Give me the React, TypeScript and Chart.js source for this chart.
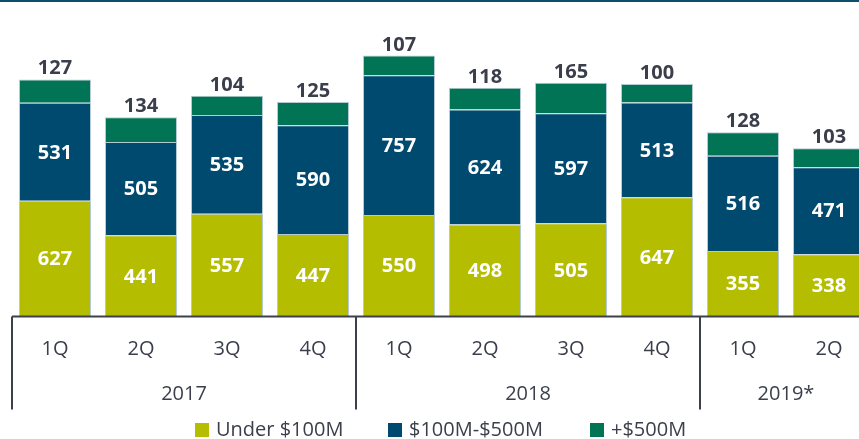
import React, { useEffect, useRef } from "react";
import { Chart, registerables } from "chart.js";

Chart.register(...registerables);

const categories = ["1Q", "2Q", "3Q", "4Q", "1Q", "2Q", "3Q", "4Q", "1Q", "2Q"];
const years = ["2017", "2018", "2019*"];
const yearSpans = [4, 4, 2];
const under100M = [627, 441, 557, 447, 550, 498, 505, 647, 355, 338];
const mid100to500M = [531, 505, 535, 590, 757, 624, 597, 513, 516, 471];
const over500M = [127, 134, 104, 125, 107, 118, 165, 100, 128, 103];
const seriesNames = ["Under $100M", "$100M-$500M", "+$500M"];
const seriesColors = ["#b5bd00", "#004a70", "#007455"];

const FONT = "'Open Sans', 'Noto Sans', sans-serif";
const TEXT = "#3b3f4b";

const overlayPlugin = {
  id: "overlay",
  afterDatasetsDraw(chart: any) {
    const ctx = chart.ctx;
    ctx.save();
    ctx.font = `bold 20px ${FONT}`;
    ctx.textAlign = "center";
    const n = chart.data.datasets.length;
    chart.data.datasets.forEach((ds: any, di: number) => {
      const meta = chart.getDatasetMeta(di);
      meta.data.forEach((el: any, i: number) => {
        const v = ds.data[i];
        if (di === n - 1) {
          ctx.fillStyle = TEXT;
          ctx.textBaseline = "alphabetic";
          ctx.fillText(String(v), el.x, el.y - 5);
        } else {
          ctx.fillStyle = "#ffffff";
          ctx.textBaseline = "middle";
          ctx.fillText(String(v), el.x, (el.y + el.base) / 2 + 1);
        }
      });
    });
    ctx.restore();
  },
  afterDraw(chart: any) {
    const ctx = chart.ctx;
    const area = chart.chartArea;
    const xs = chart.scales.x;
    ctx.save();
    // top rule
    ctx.fillStyle = "#0e4d6b";
    ctx.fillRect(0, 0, chart.width, 2);
    // axis line
    ctx.strokeStyle = "#3d414b";
    ctx.lineWidth = 2;
    ctx.beginPath();
    ctx.moveTo(area.left, area.bottom);
    ctx.lineTo(chart.width, area.bottom);
    ctx.stroke();
    // quarter labels
    ctx.fillStyle = TEXT;
    ctx.font = `20px ${FONT}`;
    ctx.textAlign = "center";
    ctx.textBaseline = "middle";
    categories.forEach((c, i) => {
      ctx.fillText(c, xs.getPixelForValue(i), area.bottom + 33);
    });
    // year groups and separators
    let start = 0;
    const boundary = (k: number) =>
      k === 0 ? area.left : (xs.getPixelForValue(k - 1) + xs.getPixelForValue(k)) / 2;
    years.forEach((y, gi) => {
      const end = start + yearSpans[gi] - 1;
      const cx = (xs.getPixelForValue(start) + xs.getPixelForValue(end)) / 2;
      ctx.fillText(y, cx, area.bottom + 78);
      const bx = Math.round(boundary(start));
      ctx.beginPath();
      ctx.moveTo(bx, area.bottom);
      ctx.lineTo(bx, area.bottom + 93);
      ctx.stroke();
      start = end + 1;
    });
    // legend
    const legendX = [195, 388, 590];
    const ly = 430;
    ctx.textAlign = "left";
    seriesNames.forEach((name, i) => {
      ctx.fillStyle = seriesColors[i];
      ctx.fillRect(legendX[i], ly - 7, 14, 14);
      ctx.fillStyle = TEXT;
      ctx.fillText(name, legendX[i] + 21, ly);
    });
    ctx.restore();
  },
};

export default function App() {
  const ref = useRef<HTMLCanvasElement | null>(null);
  useEffect(() => {
    if (!ref.current) return;
    const datasetsSrc = [under100M, mid100to500M, over500M];
    const chart = new Chart(ref.current, {
      type: "bar",
      data: {
        labels: categories,
        datasets: datasetsSrc.map((d, i) => ({
          label: seriesNames[i],
          data: d,
          backgroundColor: seriesColors[i],
          borderColor: "#b4c9d3",
          borderWidth: 1,
          categoryPercentage: 1,
          barPercentage: 0.837,
        })),
      },
      options: {
        responsive: false,
        animation: false,
        layout: { padding: { left: 12, right: 8, top: 21.3, bottom: 122.5 } },
        plugins: { legend: { display: false }, tooltip: { enabled: false } },
        scales: {
          x: { stacked: true, display: false },
          y: { stacked: true, display: false, min: 0, max: 1600 },
        },
      },
      plugins: [overlayPlugin],
    });
    return () => chart.destroy();
  }, []);
  return (
    <div
      style={{
        position: "fixed",
        left: 0,
        top: 0,
        width: 859,
        height: 439,
        overflow: "hidden",
        background: "#ffffff",
      }}
    >
      <canvas ref={ref} width={880} height={439} style={{ width: 880, height: 439, display: "block" }} />
    </div>
  );
}
